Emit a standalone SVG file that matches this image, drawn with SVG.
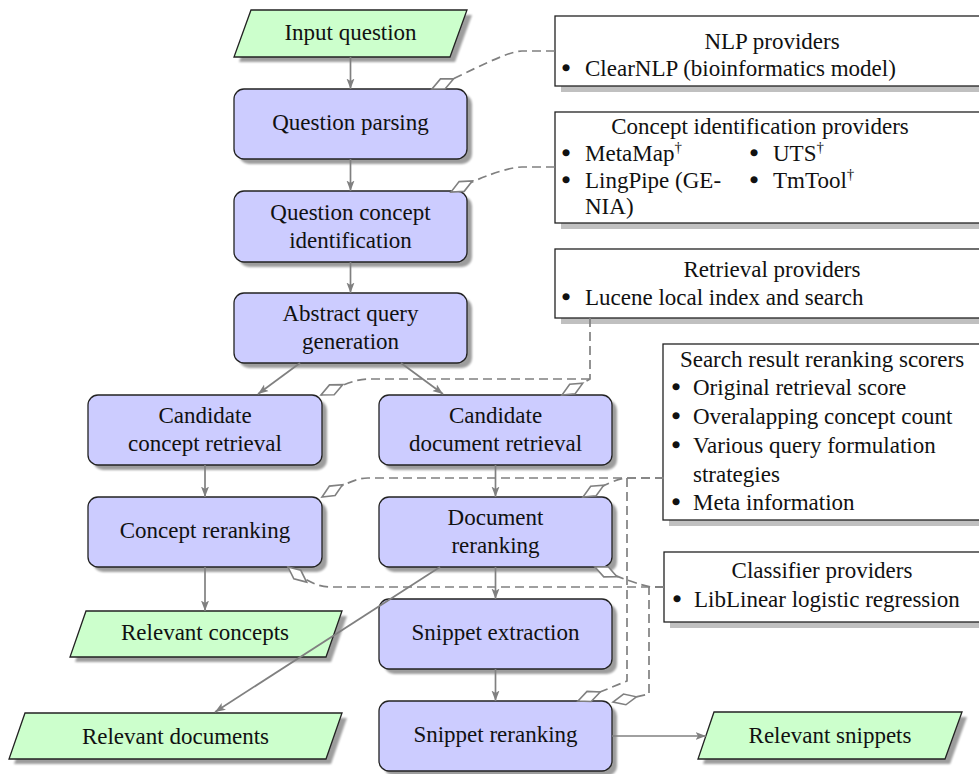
<svg xmlns="http://www.w3.org/2000/svg" width="979" height="774" viewBox="0 0 979 774">
<style>
text{font-family:"Liberation Serif","Times New Roman",serif;font-size:23px;fill:#111}
.m{text-anchor:middle}
.bl{text-anchor:middle;stroke:#111;stroke-width:1.6}
.node{fill:#ccccff;stroke:#222;stroke-width:1.3}
.io{fill:#ccffcc;stroke:#222;stroke-width:1.3}
.sh{fill:#000;opacity:0.38;filter:url(#blur)}
.prov{fill:#fff;stroke:#222;stroke-width:1.3}
.psh{fill:#c0c0c0}
.arr{fill:none;stroke:#808080;stroke-width:1.7;marker-end:url(#ah)}
.dsh{fill:none;stroke:#808080;stroke-width:1.7;stroke-dasharray:9 5;marker-end:url(#dia)}
.sup{font-size:15px}
</style>
<defs>
<filter id="blur" x="-10%" y="-10%" width="120%" height="130%"><feGaussianBlur stdDeviation="1.3"/></filter>
<marker id="ah" markerUnits="userSpaceOnUse" markerWidth="11" markerHeight="9" refX="10.5" refY="4.5" orient="auto"><path d="M0,0.5 L10.5,4.5 L0,8.5 L2.5,4.5 Z" fill="#808080"/></marker>
<marker id="dia" markerUnits="userSpaceOnUse" markerWidth="28" markerHeight="16" refX="26" refY="8" orient="auto"><path d="M2,8 L14,2.5 L26,8 L14,13.5 Z" fill="#fff" stroke="#808080" stroke-width="1.6"/></marker>
</defs>

<g id="input-question">
<polygon class="sh" points="256,15 472,15 455,62 239,62"/>
<polygon class="io" points="251,10 467,10 450,57 234,57"/>
<text class="m" x="350.5" y="40">Input question</text>
</g>
<g id="question-parsing">
<rect class="sh" x="239" y="94" width="233" height="70" rx="10"/>
<rect class="node" x="234" y="89" width="233" height="70" rx="10"/>
<text class="m" x="350.5" y="130">Question parsing</text>
</g>
<g id="question-concept-identification">
<rect class="sh" x="239" y="196" width="233" height="71" rx="10"/>
<rect class="node" x="234" y="191" width="233" height="71" rx="10"/>
<text class="m" x="350.5" y="220">Question concept</text>
<text class="m" x="350.5" y="248">identification</text>
</g>
<g id="abstract-query-generation">
<rect class="sh" x="239" y="298" width="233" height="70" rx="10"/>
<rect class="node" x="234" y="293" width="233" height="70" rx="10"/>
<text class="m" x="350.5" y="321">Abstract query</text>
<text class="m" x="350.5" y="349">generation</text>
</g>
<g id="candidate-concept-retrieval">
<rect class="sh" x="93" y="400" width="234" height="70" rx="10"/>
<rect class="node" x="88" y="395" width="234" height="70" rx="10"/>
<text class="m" x="205" y="423">Candidate</text>
<text class="m" x="205" y="451">concept retrieval</text>
</g>
<g id="candidate-document-retrieval">
<rect class="sh" x="384" y="400" width="233" height="70" rx="10"/>
<rect class="node" x="379" y="395" width="233" height="70" rx="10"/>
<text class="m" x="495.5" y="423">Candidate</text>
<text class="m" x="495.5" y="451">document retrieval</text>
</g>
<g id="concept-reranking">
<rect class="sh" x="93" y="502" width="234" height="70" rx="10"/>
<rect class="node" x="88" y="497" width="234" height="70" rx="10"/>
<text class="m" x="205" y="538">Concept reranking</text>
</g>
<g id="document-reranking">
<rect class="sh" x="384" y="502" width="233" height="70" rx="10"/>
<rect class="node" x="379" y="497" width="233" height="70" rx="10"/>
<text class="m" x="495.5" y="525">Document</text>
<text class="m" x="495.5" y="553">reranking</text>
</g>
<g id="snippet-extraction">
<rect class="sh" x="384" y="604" width="233" height="70" rx="10"/>
<rect class="node" x="379" y="599" width="233" height="70" rx="10"/>
<text class="m" x="495.5" y="640">Snippet extraction</text>
</g>
<g id="snippet-reranking">
<rect class="sh" x="384" y="706" width="233" height="70" rx="10"/>
<rect class="node" x="379" y="701" width="233" height="70" rx="10"/>
<text class="m" x="495.5" y="742">Snippet reranking</text>
</g>
<g id="relevant-concepts">
<polygon class="sh" points="91,616 347,616 331,662 75,662"/>
<polygon class="io" points="86,611 342,611 326,657 70,657"/>
<text class="m" x="205" y="640">Relevant concepts</text>
</g>
<g id="relevant-documents">
<polygon class="sh" points="30,718 347,718 331,764 14,764"/>
<polygon class="io" points="25,713 342,713 326,759 9,759"/>
<text class="m" x="175.5" y="744">Relevant documents</text>
</g>
<g id="relevant-snippets">
<polygon class="sh" points="719,717 967,717 950,764 703,764"/>
<polygon class="io" points="714,712 962,712 945,759 698,759"/>
<text class="m" x="830" y="743">Relevant snippets</text>
</g>

<g id="nlp-providers">
<rect class="psh" x="561" y="22" width="440" height="70"/>
<rect class="prov" x="555" y="16" width="440" height="70"/>
<text class="m" x="772" y="49">NLP providers</text>
<text class="bl" x="566" y="76">•</text>
<text x="585" y="76">ClearNLP (bioinformatics model)</text>
</g>
<g id="concept-identification-providers">
<rect class="psh" x="561" y="118" width="440" height="111"/>
<rect class="prov" x="555" y="112" width="440" height="111"/>
<text class="m" x="760" y="134">Concept identification providers</text>
<text class="bl" x="566" y="161">•</text>
<text x="585" y="161">MetaMap<tspan class="sup" dy="-9">†</tspan></text>
<text class="bl" x="566" y="188">•</text>
<text x="585" y="188">LingPipe (GE-</text>
<text x="585" y="214">NIA)</text>
<text class="bl" x="754" y="161">•</text>
<text x="773" y="161">UTS<tspan class="sup" dy="-9">†</tspan></text>
<text class="bl" x="754" y="188">•</text>
<text x="773" y="188">TmTool<tspan class="sup" dy="-9">†</tspan></text>
</g>
<g id="retrieval-providers">
<rect class="psh" x="561" y="255" width="440" height="69"/>
<rect class="prov" x="555" y="249" width="440" height="69"/>
<text class="m" x="772" y="277">Retrieval providers</text>
<text class="bl" x="566" y="305">•</text>
<text x="585" y="305">Lucene local index and search</text>
</g>
<g id="search-result-reranking-scorers">
<rect class="psh" x="669" y="350" width="330" height="176"/>
<rect class="prov" x="663" y="344" width="330" height="176"/>
<text class="m" x="822" y="367">Search result reranking scorers</text>
<text class="bl" x="676" y="395">•</text>
<text x="693" y="395">Original retrieval score</text>
<text class="bl" x="676" y="424">•</text>
<text x="693" y="424">Overalapping concept count</text>
<text class="bl" x="676" y="453">•</text>
<text x="693" y="453">Various query formulation</text>
<text x="693" y="482">strategies</text>
<text class="bl" x="676" y="510">•</text>
<text x="693" y="510">Meta information</text>
</g>
<g id="classifier-providers">
<rect class="psh" x="670" y="558" width="330" height="70"/>
<rect class="prov" x="664" y="552" width="330" height="70"/>
<text class="m" x="822" y="578">Classifier providers</text>
<text class="bl" x="677" y="607">•</text>
<text x="694" y="607">LibLinear logistic regression</text>
</g>

<g id="connectors">
<path class="arr" d="M350.5,57 V89"/>
<path class="arr" d="M350.5,159 V191"/>
<path class="arr" d="M350.5,262 V293"/>
<path class="arr" d="M300,363 L258,394"/>
<path class="arr" d="M401,363 L443,394"/>
<path class="arr" d="M205,465 V497"/>
<path class="arr" d="M495.5,465 V497"/>
<path class="arr" d="M205,567 V611"/>
<path class="arr" d="M495.5,567 V599"/>
<path class="arr" d="M495.5,669 V701"/>
<path class="arr" d="M440,567 L215,712"/>
<path class="arr" d="M612,736 L706,736"/>

<path class="dsh" d="M555,51 H522 C508,51 472,70 432,89"/>
<path class="dsh" d="M555,167 H522 C508,167 478,178 451,192"/>
<path class="dsh" d="M590,318 V379 L562,395"/>
<path class="dsh" d="M590,379 H368 C356,379 342,385 321,395"/>
<path class="dsh" d="M664,478 H368 C356,478 342,485 322,497"/>
<path class="dsh" d="M664,478 H628 C618,478 604,485 583,497"/>
<path class="dsh" d="M627,478 V681 L578,701"/>
<path class="dsh" d="M664,587 H330 C318,587 304,580 288,567"/>
<path class="dsh" d="M664,587 H651 C640,585 620,578 595,567"/>
<path class="dsh" d="M664,587 H649 V694 L613,702"/>
</g>
</svg>
